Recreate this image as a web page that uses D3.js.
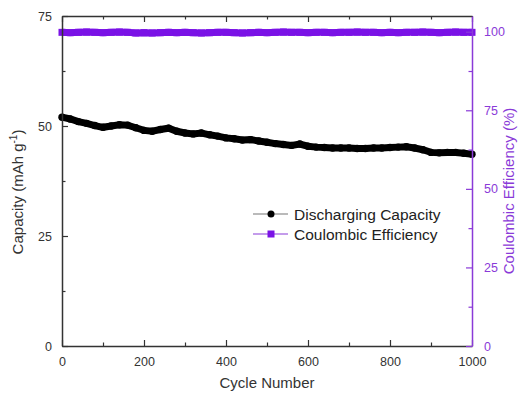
<!DOCTYPE html>
<html><head><meta charset="utf-8">
<script src="https://cdn.jsdelivr.net/npm/d3@7"></script>
<style>body{margin:0;background:#fff}svg{display:block}</style>
</head><body>
<svg id="c" width="524" height="393"></svg>
<script>
const cycles = d3.range(0, 1001, 20);
const capacity = [52.0,51.6,51.0,50.6,50.1,49.7,50.0,50.3,50.2,49.6,
  49.0,48.8,49.2,49.5,48.8,48.4,48.2,48.4,48.0,47.7,
  47.3,47.1,46.8,46.9,46.6,46.3,46.0,45.8,45.6,45.9,
  45.4,45.2,45.1,45.0,45.0,45.0,44.9,44.9,45.0,45.0,
  45.1,45.2,45.3,45.0,44.6,44.0,43.9,44.0,44.0,43.8,43.6];
const efficiency = [99.8,99.7,99.8,99.9,99.8,99.7,99.8,99.9,99.8,99.6,
  99.7,99.6,99.7,99.8,99.7,99.8,99.7,99.6,99.7,99.8,
  99.8,99.7,99.6,99.7,99.8,99.7,99.8,99.9,99.8,99.8,
  99.7,99.8,99.8,99.7,99.8,99.8,99.9,99.8,99.8,99.7,
  99.8,99.7,99.8,99.8,99.9,99.8,99.7,99.8,99.9,99.8,99.8];
const xTicks = [0,200,400,600,800,1000];
const yLeftTicks = [0,25,50,75];
const yRightTicks = [0,25,50,75,100];

const svg = d3.select("#c");
const L=62,R=472,T=16,B=346;
const x = d3.scaleLinear().domain([0,1000]).range([L,R]);
const yL = d3.scaleLinear().domain([0,75]).range([B,T]);
const yR = d3.scaleLinear().domain([0,105]).range([B,T]);
const font = "Liberation Sans, Arial, sans-serif";
const axCol = "#333", purple = "#7a12e6", purpleAx = "#8a3ad8";

// data
const capData = cycles.map((c,i)=>[c,capacity[i]]);
const ceData = cycles.map((c,i)=>[c,efficiency[i]]);
svg.append("path").datum(ceData).attr("fill","none").attr("stroke",purple).attr("stroke-width",7)
  .attr("d", d3.line().x(d=>x(d[0])).y(d=>yR(d[1])));
svg.selectAll(".sq").data(ceData).join("rect").attr("x",d=>x(d[0])-3.5).attr("y",d=>yR(d[1])-3.5)
  .attr("width",7).attr("height",7).attr("fill",purple);
svg.append("path").datum(capData).attr("fill","none").attr("stroke","#000").attr("stroke-width",7)
  .attr("d", d3.line().x(d=>x(d[0])).y(d=>yL(d[1])));
svg.selectAll(".dt").data(capData).join("circle").attr("cx",d=>x(d[0])).attr("cy",d=>yL(d[1]))
  .attr("r",3.7).attr("fill","#000");

// axes
function style(g, col){
  g.select(".domain").attr("stroke",col).attr("stroke-width",1.5);
  g.selectAll(".tick line").attr("stroke",col).attr("stroke-width",1.2);
  g.selectAll("text").attr("fill",col).style("font-family",font).style("font-size","12.5px");
}
const fmt = d3.format("d");
const bottom = svg.append("g").attr("transform",`translate(0,${B})`)
  .call(d3.axisBottom(x).tickValues(xTicks).tickFormat(fmt).tickSize(-6).tickPadding(11).tickSizeOuter(0));
style(bottom, axCol);
svg.append("g").attr("transform",`translate(0,${B})`)
  .call(d3.axisBottom(x).tickValues([100,300,500,700,900]).tickSize(-3.5).tickFormat("").tickSizeOuter(0))
  .call(g=>{g.select(".domain").remove(); g.selectAll("line").attr("stroke",axCol).attr("stroke-width",1.2);});
const top_ = svg.append("g").attr("transform",`translate(0,${T})`)
  .call(d3.axisTop(x).tickValues(xTicks).tickSize(-6).tickFormat("").tickSizeOuter(0));
style(top_, axCol);
svg.append("g").attr("transform",`translate(0,${T})`)
  .call(d3.axisTop(x).tickValues([100,300,500,700,900]).tickSize(-3.5).tickFormat("").tickSizeOuter(0))
  .call(g=>{g.select(".domain").remove(); g.selectAll("line").attr("stroke",axCol).attr("stroke-width",1.2);});

const left = svg.append("g").attr("transform",`translate(${L},0)`)
  .call(d3.axisLeft(yL).tickValues(yLeftTicks).tickFormat(fmt).tickSize(-6).tickPadding(10).tickSizeOuter(0));
style(left, axCol);
svg.append("g").attr("transform",`translate(${L},0)`)
  .call(d3.axisLeft(yL).tickValues([12.5,37.5,62.5]).tickSize(-3.5).tickFormat("").tickSizeOuter(0))
  .call(g=>{g.select(".domain").remove(); g.selectAll("line").attr("stroke",axCol).attr("stroke-width",1.2);});

const right = svg.append("g").attr("transform",`translate(${R},0)`)
  .call(d3.axisRight(yR).tickValues(yRightTicks).tickFormat(fmt).tickSize(-6).tickPadding(12).tickSizeOuter(0));
style(right, purpleAx);
svg.append("g").attr("transform",`translate(${R},0)`)
  .call(d3.axisRight(yR).tickValues([12.5,37.5,62.5,87.5]).tickSize(-3.5).tickFormat("").tickSizeOuter(0))
  .call(g=>{g.select(".domain").remove(); g.selectAll("line").attr("stroke",purpleAx).attr("stroke-width",1.2);});

// labels
svg.append("text").attr("x",(L+R)/2).attr("y",388).attr("text-anchor","middle")
  .style("font-family",font).style("font-size","15px").attr("fill",axCol).text("Cycle Number");
const yl = svg.append("text").attr("transform",`translate(23,192) rotate(-90)`).attr("text-anchor","middle")
  .style("font-family",font).style("font-size","15px").attr("fill",axCol);
yl.append("tspan").text("Capacity (mAh g");
yl.append("tspan").attr("dy",-6).style("font-size","10px").text("-1");
yl.append("tspan").attr("dy",6).text(")");
svg.append("text").attr("transform",`translate(514,191) rotate(-90)`).attr("text-anchor","middle")
  .style("font-family",font).style("font-size","15px").attr("fill",purpleAx).text("Coulombic Efficiency (%)");

// legend
const lg = svg.append("g");
lg.append("line").attr("x1",253).attr("x2",288).attr("y1",214).attr("y2",214).attr("stroke","#777").attr("stroke-width",1.2);
lg.append("circle").attr("cx",271).attr("cy",214).attr("r",3.5).attr("fill","#000");
lg.append("text").attr("x",294).attr("y",219.5).style("font-family",font).style("font-size","15.5px").attr("fill","#222").text("Discharging Capacity");
lg.append("line").attr("x1",253).attr("x2",288).attr("y1",234).attr("y2",234).attr("stroke",purpleAx).attr("stroke-width",1.2);
lg.append("rect").attr("x",267.5).attr("y",230.5).attr("width",7).attr("height",7).attr("fill",purple);
lg.append("text").attr("x",294).attr("y",239.5).style("font-family",font).style("font-size","15.5px").attr("fill","#222").text("Coulombic Efficiency");
</script>
</body></html>
